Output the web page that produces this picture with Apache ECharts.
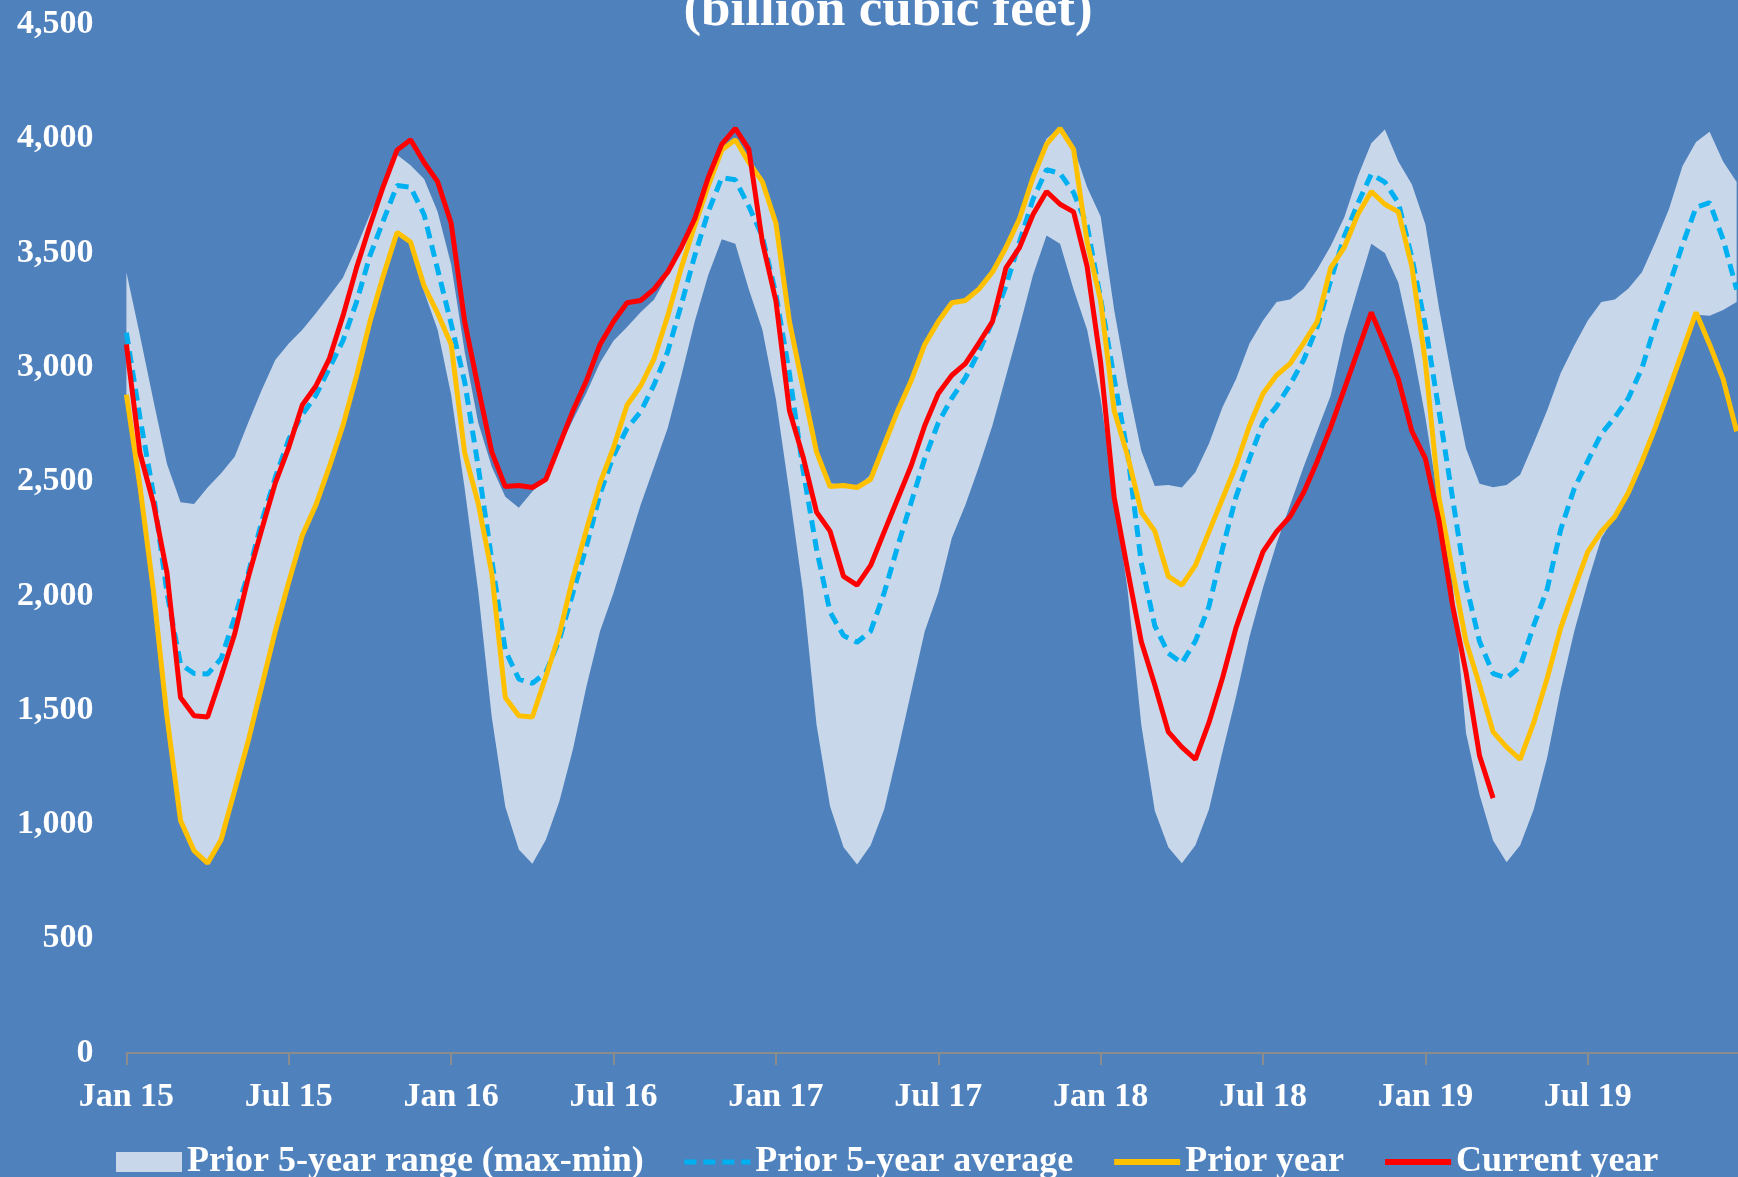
<!DOCTYPE html>
<html>
<head>
<meta charset="utf-8">
<script src="https://cdn.jsdelivr.net/npm/echarts@6/dist/echarts.min.js"></script>
<style>
html,body{margin:0;padding:0;background:#4F81BD;}
#c{width:1738px;height:1177px;}
</style>
</head>
<body>
<div id="c"></div>
<script>
// ---- Tick labels ----
const xTickMonths = [0, 6, 12, 18, 24, 30, 36, 42, 48, 54];
const xTickLabels = ['Jan 15', 'Jul 15', 'Jan 16', 'Jul 16', 'Jan 17', 'Jul 17', 'Jan 18', 'Jul 18', 'Jan 19', 'Jul 19'];
const yTicks = [0, 500, 1000, 1500, 2000, 2500, 3000, 3500, 4000, 4500];

// ---- Working gas in storage (billion cubic feet), samples on the 1st and 16th of each month ----
const stor2014 = [2880, 2480, 2020, 1470, 1017, 885, 830, 933, 1149, 1365, 1605, 1845, 2061, 2265, 2397, 2565, 2745, 2961, 3200, 3404, 3590, 3548, 3356, 3236];
const stor2015 = [3100, 2625, 2405, 2100, 1555, 1475, 1470, 1647, 1833, 2080, 2290, 2493, 2650, 2835, 2918, 3038, 3224, 3434, 3620, 3794, 3950, 3995, 3896, 3812];
const stor2016 = [3630, 3200, 2910, 2630, 2478, 2483, 2474, 2510, 2660, 2810, 2942, 3100, 3200, 3282, 3292, 3342, 3416, 3524, 3650, 3830, 3976, 4045, 3953, 3548];
const stor2017 = [3290, 2810, 2610, 2367, 2283, 2085, 2047, 2133, 2280, 2425, 2570, 2745, 2885, 2965, 3016, 3106, 3200, 3435, 3524, 3668, 3769, 3713, 3680, 3440];
const stor2018 = [3020, 2430, 2110, 1800, 1610, 1405, 1338, 1285, 1445, 1640, 1860, 2031, 2193, 2281, 2347, 2452, 2588, 2738, 2903, 3071, 3240, 3100, 2948, 2720];
const stor2019 = [2600, 2330, 1960, 1665, 1300, 1115];

// ---- Prior 5-year maximum ----
const max2015 = [3416, 3140, 2853, 2577, 2409, 2402, 2474, 2536, 2608, 2757, 2900, 3032, 3104, 3164, 3236, 3313, 3392, 3524, 3668, 3788, 3930, 3884, 3824, 3680];
const max2016 = [3450, 3068, 2757, 2565, 2433, 2385, 2457, 2517, 2649, 2769, 2889, 3020, 3116, 3176, 3241, 3296, 3404, 3536, 3656, 3800, 3955, 4000, 3920, 3820];
const max2017 = [3635, 3224, 2936, 2649, 2493, 2485, 2478, 2529, 2673, 2815, 2948, 3104, 3208, 3285, 3296, 3349, 3416, 3530, 3655, 3843, 4000, 4050, 3960, 3788];
const max2018 = [3660, 3250, 2920, 2635, 2481, 2485, 2474, 2541, 2665, 2825, 2948, 3104, 3205, 3285, 3296, 3344, 3428, 3530, 3655, 3835, 3980, 4040, 3900, 3800];
const max2019 = [3625, 3260, 2940, 2645, 2490, 2475, 2485, 2530, 2668, 2812, 2975, 3095, 3205, 3285, 3296, 3345, 3416, 3548, 3692, 3880, 3985, 4030, 3900, 3810];

// ---- Prior 5-year minimum ----
const min2015 = [2880, 2480, 2020, 1470, 1017, 885, 830, 933, 1149, 1365, 1605, 1845, 2061, 2265, 2397, 2565, 2745, 2961, 3200, 3404, 3580, 3540, 3330, 3164];
const min2016 = [2880, 2470, 2020, 1470, 1077, 890, 828, 933, 1101, 1329, 1605, 1845, 2013, 2205, 2397, 2565, 2733, 2961, 3200, 3404, 3560, 3540, 3340, 3164];
const min2017 = [2860, 2450, 2020, 1437, 1080, 900, 825, 909, 1065, 1317, 1581, 1845, 2013, 2253, 2397, 2565, 2745, 2961, 3176, 3404, 3577, 3540, 3340, 3164];
const min2018 = [2860, 2450, 2020, 1437, 1060, 900, 830, 909, 1065, 1317, 1557, 1821, 2037, 2229, 2397, 2565, 2721, 2876, 3140, 3344, 3540, 3500, 3370, 3100];
const min2019 = [2780, 2400, 2060, 1400, 1130, 930, 835, 909, 1065, 1293, 1590, 1845, 2061, 2253, 2347, 2452, 2588, 2738, 2903, 3071, 3230, 3225, 3250, 3285];

// ---- Prior 5-year average ----
const avg2015 = [3152, 2781, 2445, 2013, 1701, 1660, 1658, 1725, 1905, 2097, 2325, 2517, 2685, 2793, 2877, 2996, 3116, 3284, 3488, 3644, 3795, 3788, 3668, 3428];
const avg2016 = [3190, 2936, 2565, 2157, 1761, 1636, 1617, 1665, 1809, 2013, 2217, 2445, 2613, 2733, 2805, 2924, 3068, 3272, 3488, 3680, 3830, 3820, 3704, 3572];
const avg2017 = [3320, 2972, 2553, 2205, 1929, 1826, 1797, 1845, 2013, 2217, 2409, 2601, 2757, 2865, 2953, 3068, 3200, 3356, 3548, 3735, 3865, 3848, 3764, 3620];
const avg2018 = [3300, 2950, 2620, 2145, 1869, 1749, 1706, 1802, 1953, 2205, 2433, 2601, 2757, 2829, 2924, 3032, 3176, 3380, 3572, 3716, 3845, 3810, 3720, 3480];
const avg2019 = [3180, 2810, 2430, 2050, 1800, 1660, 1641, 1690, 1870, 2030, 2290, 2470, 2590, 2709, 2781, 2865, 2996, 3188, 3356, 3536, 3700, 3720, 3560, 3340];

// ---- Build [month, value] pairs (month 0 = Jan 1 2015, samples every half month) ----
const SAMPLE_STEP = 0.5;
function build(years) {
  const out = [];
  years.forEach((arr, yi) => {
    arr.forEach((v, k) => out.push([yi * 12 + k * SAMPLE_STEP, v]));
  });
  return out;
}
const currentData = build([stor2015, stor2016, stor2017, stor2018, stor2019]);
const priorData = build([stor2014, stor2015, stor2016, stor2017, stor2018]);
const avgData = build([avg2015, avg2016, avg2017, avg2018, avg2019]);
const minData = build([min2015, min2016, min2017, min2018, min2019]);
const maxData = build([max2015, max2016, max2017, max2018, max2019]);

const BG = '#4F81BD';
const BAND = '#C8D8EA';
const AVG = '#00B0F0';
const PRIOR = '#FFC000';
const CUR = '#FF0000';
const FONT = 'Liberation Serif';

const chart = echarts.init(document.getElementById('c'), null, {renderer: 'canvas'});
chart.setOption({
  backgroundColor: BG,
  animation: false,
  graphic: [{
    type: 'text',
    x: 888, y: 11,
    style: {
      text: '(billion cubic feet)',
      fill: '#fff',
      font: 'bold 53px "Liberation Serif"',
      align: 'center',
      verticalAlign: 'middle'
    }
  }],
  grid: {left: 126.4, right: 0, top: 24.4, bottom: 124},
  legend: {
    left: 111, top: 1139,
    itemWidth: 66, itemHeight: 20, itemGap: 38,
    selectedMode: false,
    textStyle: {color: '#fff', fontFamily: FONT, fontWeight: 'bold', fontSize: 36},
    data: [
      {name: 'Prior 5-year range (max-min)', icon: 'rect', itemStyle: {color: BAND, opacity: 1, borderWidth: 0}},
      {name: 'Prior 5-year average', itemStyle: {opacity: 0}, lineStyle: {width: 5}},
      {name: 'Prior year', itemStyle: {opacity: 0}, lineStyle: {width: 6}},
      {name: 'Current year', itemStyle: {opacity: 0}, lineStyle: {width: 6}}
    ]
  },
  xAxis: {
    type: 'value', min: 0, max: 59.55,
    axisLine: {show: true, onZero: false, lineStyle: {color: '#8C8C8C', width: 2}},
    axisTick: {show: true, length: 12, inside: false, customValues: xTickMonths, lineStyle: {color: '#8C8C8C', width: 2}},
    splitLine: {show: false},
    axisLabel: {
      customValues: xTickMonths,
      color: '#fff', fontFamily: FONT, fontWeight: 'bold', fontSize: 34, margin: 27,
      formatter: v => xTickLabels[xTickMonths.indexOf(Math.round(v))] || ''
    }
  },
  yAxis: {
    type: 'value', min: yTicks[0], max: yTicks[yTicks.length - 1], interval: 500,
    axisLine: {show: false}, axisTick: {show: false}, splitLine: {show: false},
    axisLabel: {
      color: '#fff', fontFamily: FONT, fontWeight: 'bold', fontSize: 34, margin: 33,
      formatter: v => v.toLocaleString('en-US')
    }
  },
  series: [
    {
      name: 'Prior 5-year range (max-min)', type: 'custom', silent: true, z: 1,
      itemStyle: {color: BAND},
      data: [[0, 0]],
      clip: true,
      renderItem: (params, api) => {
        const upper = maxData.map(p => api.coord(p));
        const lower = minData.slice().reverse().map(p => api.coord(p));
        return {type: 'polygon', shape: {points: upper.concat(lower)}, style: {fill: BAND}};
      }
    },
    {
      name: 'Prior 5-year average', type: 'line', data: avgData, symbol: 'none', color: AVG,
      lineStyle: {color: AVG, width: 5, type: [12, 7]}, z: 2
    },
    {
      name: 'Prior year', type: 'line', data: priorData, symbol: 'none', color: PRIOR,
      lineStyle: {color: PRIOR, width: 5}, z: 3
    },
    {
      name: 'Current year', type: 'line', data: currentData, symbol: 'none', color: CUR,
      lineStyle: {color: CUR, width: 5}, z: 4
    }
  ]
});
</script>
</body>
</html>
